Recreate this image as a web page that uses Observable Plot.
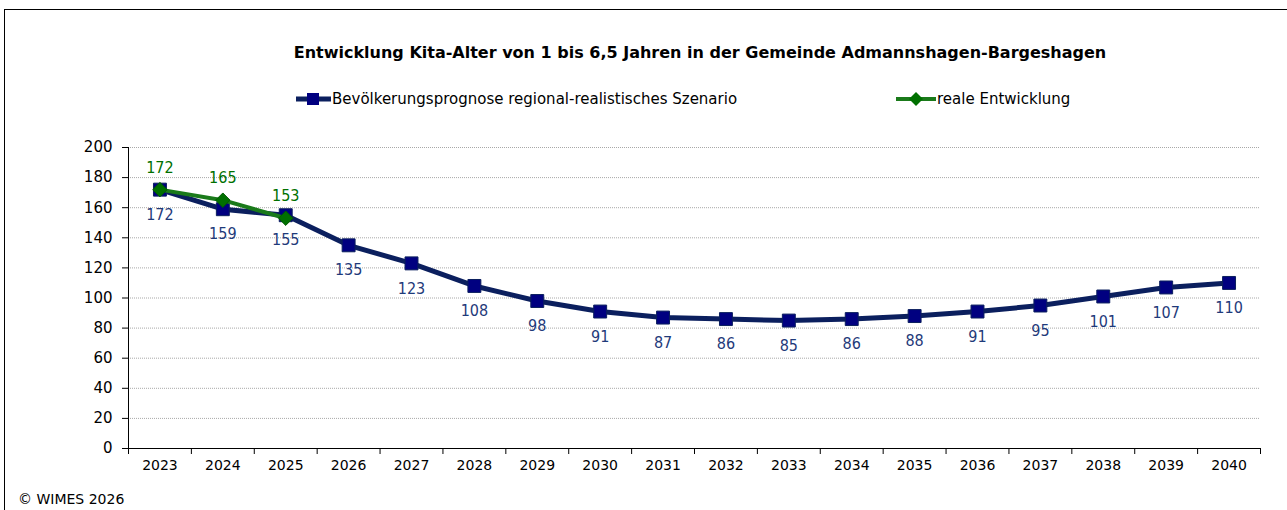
<!DOCTYPE html>
<html>
<head>
<meta charset="utf-8">
<script src="https://cdn.jsdelivr.net/npm/d3@7"></script>
<script src="https://cdn.jsdelivr.net/npm/@observablehq/plot@0.6"></script>
<style>
  html, body { margin: 0; padding: 0; background: #fff; }
  body { width: 1287px; height: 510px; overflow: hidden; font-family: Tahoma, "DejaVu Sans", sans-serif; }
  #wrap { position: relative; width: 1287px; height: 510px; }
  #frame { position: absolute; left: 4px; top: 9px; width: 1300px; height: 520px; border-left: 1px solid #000; border-top: 1px solid #000; }
  #title { position: absolute; left: 0; width: 1400px; top: 43px; text-align: center; font-weight: bold; font-size: 16px; color: #000; }
  .leg { position: absolute; top: 89px; font-size: 15px; color: #000; display: flex; align-items: center; white-space: nowrap; }
  #caption { position: absolute; left: 18px; top: 491px; font-size: 14px; color: #000; }
  #chart { position: absolute; left: 0; top: 0; }
</style>
</head>
<body>
<div id="wrap">
  <div id="chart"></div>
  <div id="frame"></div>
  <div id="title">Entwicklung Kita-Alter von 1 bis 6,5 Jahren in der Gemeinde Admannshagen-Bargeshagen</div>
  <div class="leg" style="left:295px"><svg width="37" height="20"><line x1="1" y1="10" x2="36" y2="10" stroke="#0b1f5e" stroke-width="5"/><rect x="12" y="4" width="12" height="12" fill="#000080"/></svg><span>Bevölkerungsprognose regional-realistisches Szenario</span></div>
  <div class="leg" style="left:895px"><svg width="42" height="20"><line x1="1" y1="10" x2="41" y2="10" stroke="#1a7a1a" stroke-width="4"/><path d="M21,3 L28,10 L21,17 L14,10 Z" fill="#007000"/></svg><span>reale Entwicklung</span></div>
  <div id="caption">© WIMES 2026</div>
</div>
<script>
const years = [2023, 2024, 2025, 2026, 2027, 2028, 2029, 2030, 2031, 2032, 2033, 2034, 2035, 2036, 2037, 2038, 2039, 2040];
const prognose = [172, 159, 155, 135, 123, 108, 98, 91, 87, 86, 85, 86, 88, 91, 95, 101, 107, 110];
const realYears = [2023, 2024, 2025];
const real = [172, 165, 153];
const yTicks = [0, 20, 40, 60, 80, 100, 120, 140, 160, 180, 200];

const progData = years.map((y, i) => ({year: y, value: prognose[i]}));
const realData = realYears.map((y, i) => ({year: y, value: real[i]}));
const boundaries = [...years.map(y => y - 0.5), years[years.length - 1] + 0.5];

const blue = "#0b1f5e";
const green = "#1a7a1a";
const labelFont = '"DejaVu Sans Condensed", "DejaVu Sans", sans-serif';

const chart = Plot.plot({
  width: 1287,
  height: 510,
  marginLeft: 128,
  marginRight: 27,
  marginTop: 147,
  marginBottom: 62,
  style: {fontFamily: 'Tahoma, "DejaVu Sans", sans-serif', background: "transparent", color: "#000"},
  x: {type: "linear", domain: [years[0] - 0.5, years[years.length - 1] + 0.5]},
  y: {domain: [0, 200]},
  marks: [
    Plot.gridY(yTicks.slice(1), {stroke: "#a8a8a8", strokeOpacity: 1, strokeDasharray: "1,1"}),
    Plot.axisY({ticks: yTicks, tickSize: 6, tickPadding: 10, fontSize: 15, tickFormat: d => String(d), label: null}),
    Plot.ruleX([years[0] - 0.5], {stroke: "#000", strokeWidth: 1}),
    Plot.ruleY([0], {stroke: "#000", strokeWidth: 1}),
    Plot.axisX({ticks: boundaries, tickFormat: () => "", tickSize: 6, label: null}),
    Plot.axisX({ticks: years, tickFormat: d => String(d), tickSize: 0, tickPadding: 12, fontSize: 14, label: null}),
    Plot.line(progData, {x: "year", y: "value", stroke: blue, strokeWidth: 5}),
    Plot.dot(progData, {x: "year", y: "value", symbol: "square", r: 7.3, fill: "#000080", stroke: blue, strokeWidth: 1}),
    Plot.line(realData, {x: "year", y: "value", stroke: green, strokeWidth: 4}),
    Plot.dot(realData, {x: "year", y: "value", symbol: "diamond2", r: 6.5, fill: "#007000", stroke: "#005a00", strokeWidth: 1}),
    Plot.text(progData, {x: "year", y: "value", text: d => String(d.value), dy: 25, fill: "#1f3a7a", fontSize: 16, fontFamily: labelFont}),
    Plot.text(realData, {x: "year", y: "value", text: d => String(d.value), dy: -22, fill: "#007000", fontSize: 16, fontFamily: labelFont})
  ]
});
document.getElementById("chart").appendChild(chart);
</script>
</body>
</html>
